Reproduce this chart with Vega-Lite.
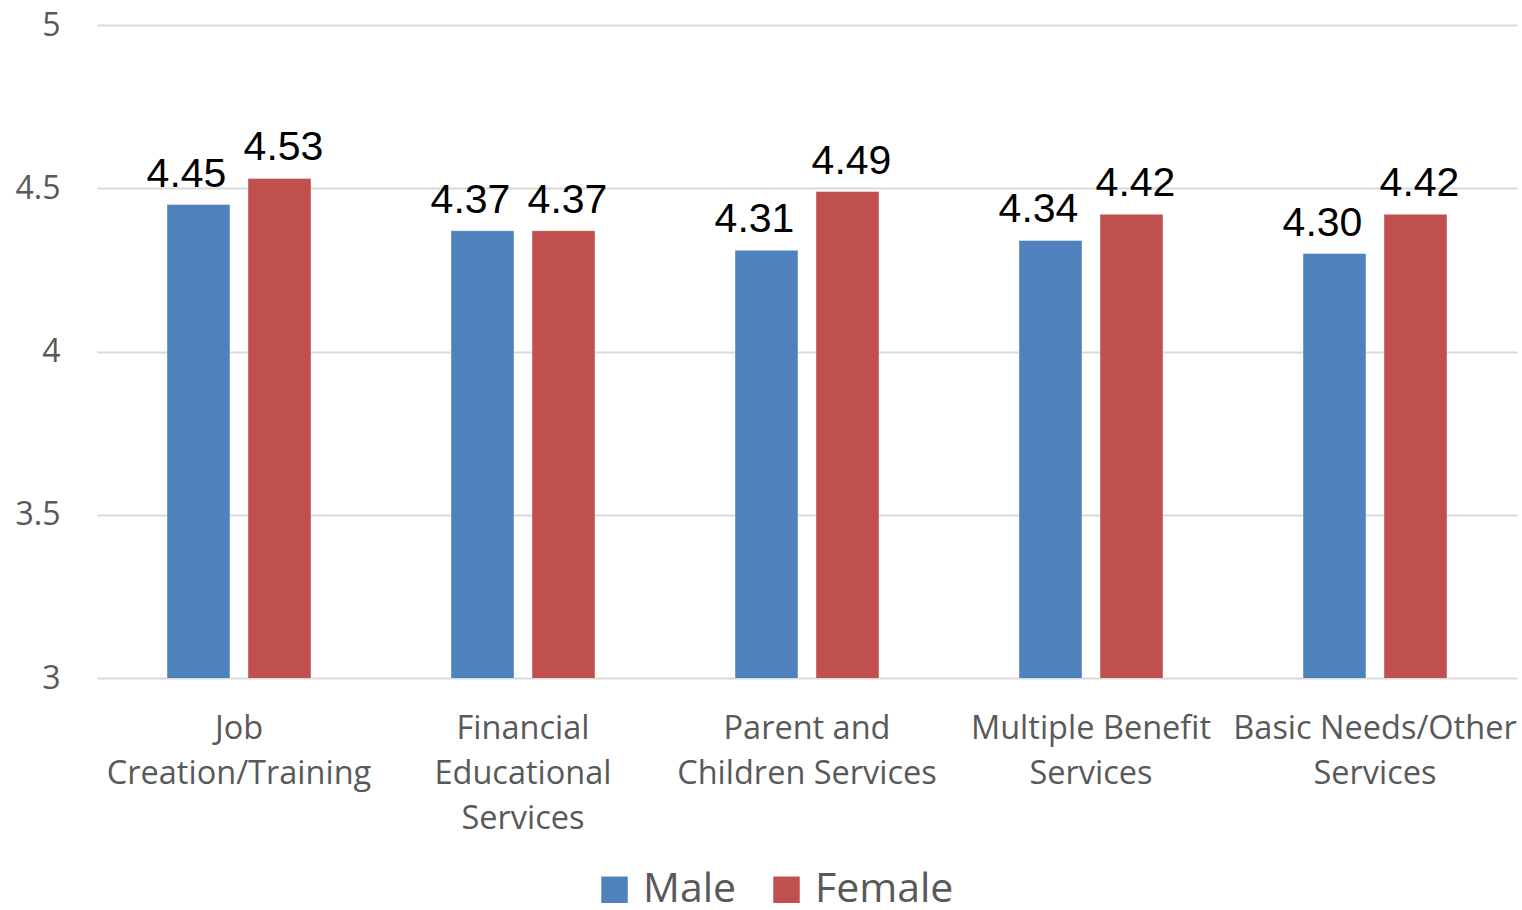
{
  "$schema": "https://vega.github.io/schema/vega-lite/v6.json",
  "width": 1420,
  "height": 653,
  "autosize": {"type": "none"},
  "padding": {"left": 97, "top": 25, "right": 5, "bottom": 232},
  "background": "white",
  "config": {"view": {"stroke": null}},
  "data": {
    "values": [
      {"service": "Job|Creation/Training", "gender": "Male", "score": 4.45},
      {"service": "Job|Creation/Training", "gender": "Female", "score": 4.53},
      {"service": "Financial|Educational|Services", "gender": "Male", "score": 4.37},
      {"service": "Financial|Educational|Services", "gender": "Female", "score": 4.37},
      {"service": "Parent and|Children Services", "gender": "Male", "score": 4.31},
      {"service": "Parent and|Children Services", "gender": "Female", "score": 4.49},
      {"service": "Multiple Benefit|Services", "gender": "Male", "score": 4.34},
      {"service": "Multiple Benefit|Services", "gender": "Female", "score": 4.42},
      {"service": "Basic Needs/Other|Services", "gender": "Male", "score": 4.30},
      {"service": "Basic Needs/Other|Services", "gender": "Female", "score": 4.42}
    ]
  },
  "encoding": {
    "x": {
      "field": "service", "type": "nominal", "sort": null,
      "scale": {"paddingInner": 0.493, "paddingOuter": 0.2465},
      "axis": {
        "title": null, "labelAngle": 0, "ticks": false, "domain": false,
        "labelExpr": "split(datum.label, '|')", "labelLimit": 400,
        "labelFont": "Open Sans", "labelFontSize": 32.5, "labelColor": "#595959",
        "labelLineHeight": 45, "labelPadding": 34, "labelBaseline": "top"
      }
    },
    "xOffset": {
      "field": "gender", "type": "nominal", "sort": ["Male", "Female"],
      "scale": {"paddingInner": 0.222, "paddingOuter": 0}
    },
    "y": {
      "field": "score", "type": "quantitative",
      "scale": {"domain": [3, 5], "zero": false, "nice": false},
      "axis": {
        "title": null, "values": [3, 3.5, 4, 4.5, 5], "format": "~g", "domain": false, "ticks": false,
        "gridColor": "#d9d9d9", "gridWidth": 2,
        "labelFont": "Open Sans", "labelFontSize": 32, "labelColor": "#595959",
        "labelPadding": 37
      }
    }
  },
  "layer": [
    {
      "mark": {"type": "bar", "clip": true, "stroke": "white", "strokeOpacity": 0.4, "strokeWidth": 1},
      "encoding": {
        "color": {
          "field": "gender", "type": "nominal", "sort": ["Male", "Female"],
          "scale": {"domain": ["Male", "Female"], "range": ["#4F81BD", "#C0504D"]},
          "legend": {
            "title": null, "orient": "none", "legendX": 497, "legendY": 844,
            "direction": "horizontal", "symbolType": "square", "symbolSize": 700,
            "symbolStrokeWidth": 0,
            "labelFont": "Open Sans", "labelFontSize": 41, "labelColor": "#595959",
            "labelOffset": 8, "columnPadding": 29, "labelLimit": 300
          }
        }
      }
    },
    {
      "transform": [{"filter": "datum.gender === 'Male'"}],
      "mark": {"type": "text", "font": "Liberation Sans", "fontSize": 41, "color": "#000000", "baseline": "alphabetic", "dy": -18, "dx": -12},
      "encoding": {"text": {"field": "score", "type": "quantitative", "format": ".2f"}}
    },
    {
      "transform": [{"filter": "datum.gender === 'Female'"}],
      "mark": {"type": "text", "font": "Liberation Sans", "fontSize": 41, "color": "#000000", "baseline": "alphabetic", "dy": -18, "dx": 4},
      "encoding": {"text": {"field": "score", "type": "quantitative", "format": ".2f"}}
    }
  ]
}
